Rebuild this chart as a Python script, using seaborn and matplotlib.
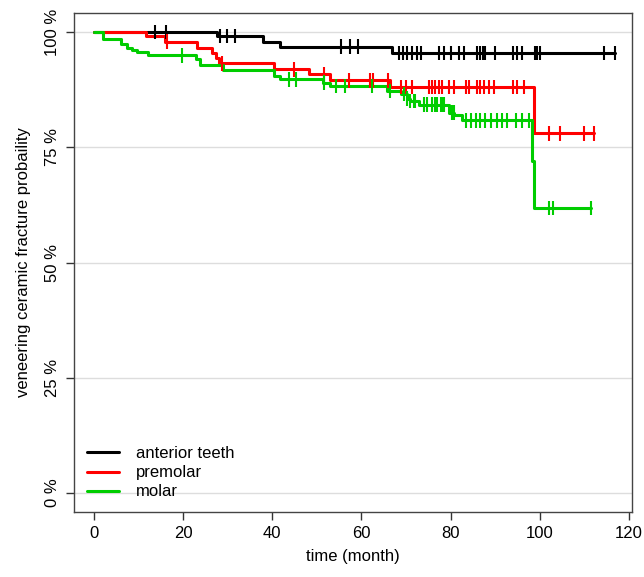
import numpy as np
import pandas as pd
import matplotlib
matplotlib.use("Agg")
import matplotlib.pyplot as plt
import seaborn as sns
from matplotlib.lines import Line2D

# ---- data ----
groups = ["anterior teeth", "premolar", "molar"]
colors = ["#000000", "#FF0000", "#00CD00"]

ant_time = [0, 27.6, 38.0, 41.8, 66.9, 116.9]
ant_surv = [100, 99.1, 97.9, 96.8, 95.4, 95.4]
ant_cens = [13.7, 16.2, 28.2, 29.8, 31.7, 55.4, 57.5, 59.2, 68.4, 69.4, 70.3, 71.4,
            72.5, 73.4, 77.4, 78.5, 80.2, 81.8, 83.0, 86.0, 86.6, 87.3, 87.7, 89.9,
            93.9, 95.0, 96.1, 98.9, 99.3, 100.1, 114.4, 116.9]

pre_time = [0, 11.6, 16.0, 23.2, 26.4, 27.3, 28.0, 40.4, 48.2, 53.0, 66.5, 98.6, 112.1]
pre_surv = [100, 99.1, 97.9, 96.6, 95.4, 94.3, 93.2, 91.9, 90.8, 89.5, 88.1, 78.0, 78.0]
pre_cens = [16.3, 28.7, 44.8, 51.7, 57.2, 62.0, 62.6, 65.9, 68.8, 70.1, 71.4, 75.1,
            75.9, 76.6, 77.4, 78.1, 79.6, 80.7, 83.4, 84.1, 86.0, 86.7, 87.5, 88.6,
            89.7, 93.9, 95.0, 96.5, 102.1, 104.5, 110.0, 112.1]

mol_time = [0, 2.1, 6.0, 7.5, 8.5, 9.6, 12.0, 22.9, 23.8, 28.9, 40.3, 41.8, 51.4, 53.0,
            65.8, 68.8, 70.2, 71.0, 72.9, 79.6, 80.8, 82.6, 98.3, 98.8, 111.5]
mol_surv = [100, 98.5, 97.3, 96.6, 96.1, 95.7, 94.9, 94.1, 92.8, 91.8, 90.5, 89.7, 89.0,
            88.3, 87.2, 86.5, 85.5, 85.0, 84.2, 82.5, 82.0, 80.8, 72.1, 61.8, 61.8]
mol_cens = [19.7, 43.7, 45.3, 51.7, 54.2, 56.4, 62.4, 66.4, 69.5, 70.3, 71.0, 71.8, 72.1,
            74.0, 74.8, 75.9, 76.6, 77.0, 77.8, 78.1, 78.5, 80.4, 80.7, 83.4, 84.5, 85.6,
            86.7, 87.8, 89.0, 90.5, 91.6, 92.7, 94.6, 96.1, 97.6, 102.1, 102.9, 111.5]

x_ticks = [0, 20, 40, 60, 80, 100, 120]
y_ticks = [0, 25, 50, 75, 100]
y_ticklabels = ["0 %", "25 %", "50 %", "75 %", "100 %"]

# ---- build tables ----
curves = []
marks = []
for g, t, s, c in [(groups[0], ant_time, ant_surv, ant_cens),
                   (groups[1], pre_time, pre_surv, pre_cens),
                   (groups[2], mol_time, mol_surv, mol_cens)]:
    curves.append(pd.DataFrame({"group": g, "time": t, "surv": s}))
    t_arr = np.array(t)
    s_arr = np.array(s)
    idx = np.searchsorted(t_arr, np.array(c), side="right") - 1
    marks.append(pd.DataFrame({"group": g, "time": c, "surv": s_arr[idx]}))
curve_df = pd.concat(curves, ignore_index=True)
mark_df = pd.concat(marks, ignore_index=True)

sns.set_style("white")
plt.rcParams["font.family"] = ["Liberation Sans", "DejaVu Sans"]
plt.rcParams["text.color"] = "black"
plt.rcParams["axes.labelcolor"] = "black"
plt.rcParams["xtick.color"] = "black"
plt.rcParams["ytick.color"] = "black"

fig = plt.figure(figsize=(6.44, 5.77), dpi=100)
ax = fig.add_axes([74 / 644, 1 - 512 / 577, (632 - 74) / 644, (512 - 13) / 577])

for yv in y_ticks:
    ax.axhline(yv, color="#dddddd", lw=1, zorder=0)

palette = dict(zip(groups, colors))
sns.lineplot(data=curve_df, x="time", y="surv", hue="group", palette=palette,
             estimator=None, sort=False, drawstyle="steps-post", lw=2.2,
             legend=False, ax=ax, zorder=3)
sns.scatterplot(data=mark_df, x="time", y="surv", hue="group", palette=palette,
                marker="|", s=110, linewidth=1.5, legend=False, ax=ax, zorder=4)

ax.set_xlim(-4.5, 120.7)
ax.set_ylim(-4.1, 104.1)
ax.set_xticks(x_ticks)
ax.set_xticklabels([str(v) for v in x_ticks], fontsize=12)
ax.set_yticks(y_ticks)
ax.set_yticklabels(y_ticklabels, fontsize=12, rotation=90, va="center")
ax.tick_params(axis="both", direction="out", length=6, width=1, color="#333333",
               labelcolor="black", bottom=True, left=True, pad=4)
for sp in ax.spines.values():
    sp.set_visible(True)
    sp.set_color("#444444")
    sp.set_linewidth(1)

ax.set_xlabel("time (month)", fontsize=12, labelpad=6, color="black")
ax.set_ylabel("veneering ceramic fracture probaility", fontsize=12, labelpad=10,
              color="black")

handles = [Line2D([0], [0], color=c, lw=2.2) for c in colors]
leg = ax.legend(handles, groups, loc="lower left", bbox_to_anchor=(0.0, 0.0),
                frameon=False, fontsize=12, handlelength=1.95, handletextpad=1.0,
                labelspacing=0.25, borderaxespad=0.35)
for txt in leg.get_texts():
    txt.set_color("black")

fig.savefig("out.png", dpi=100)
